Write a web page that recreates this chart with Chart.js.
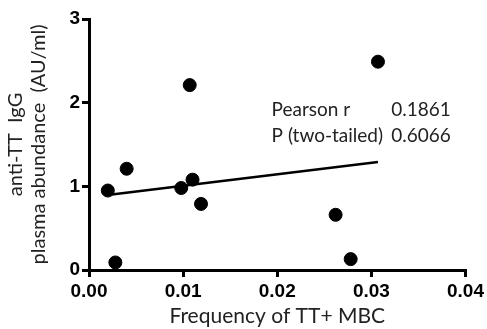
<!DOCTYPE html>
<html>
<head>
<meta charset="utf-8">
<script src="https://cdn.jsdelivr.net/npm/chart.js@4"></script>
<style>
  html, body { margin: 0; padding: 0; background: #fff; }
  #wrap { width: 487px; height: 329px; }
</style>
</head>
<body>
<div id="wrap"><canvas id="corrChart"></canvas></div>
<script>
const freqTT = [0.0020, 0.0028, 0.0040, 0.0098, 0.0107, 0.0110, 0.0119, 0.0262, 0.0278, 0.0307];
const iggAbundance = [0.95, 0.09, 1.21, 0.98, 2.21, 1.08, 0.79, 0.66, 0.13, 2.49];
const fitX = [0.0022, 0.0307];
const fitY = [0.90, 1.29];
const xTicks = [0, 0.01, 0.02, 0.03, 0.04];
const yTicks = [0, 1, 2, 3];
const statLabels = ['Pearson r', 'P (two-tailed)'];
const statValues = ['0.1861', '0.6066'];

const textFont = 'Lato, "Open Sans", sans-serif';
const tickFont = '"Liberation Sans", Arial, sans-serif';

const statsBox = {
  id: 'statsBox',
  afterDatasetsDraw(chart) {
    const ctx = chart.ctx;
    const x = chart.scales.x, y = chart.scales.y;
    ctx.save();
    ctx.fillStyle = '#222';
    ctx.font = '19px ' + textFont;
    ctx.textBaseline = 'middle';
    ctx.textAlign = 'left';
    statLabels.forEach((lab, i) => {
      const py = y.getPixelForValue(1.91) + i * 26;
      ctx.fillText(lab, x.getPixelForValue(0.0194), py);
      ctx.fillText(statValues[i], x.getPixelForValue(0.0321), py);
    });
    ctx.restore();
  }
};

const ctx = document.getElementById('corrChart').getContext('2d');
new Chart(ctx, {
  type: 'scatter',
  data: {
    datasets: [
      {
        data: freqTT.map((v, i) => ({ x: v, y: iggAbundance[i] })),
        backgroundColor: '#000',
        borderColor: '#000',
        pointRadius: 6.5,
        pointHoverRadius: 6.5
      },
      {
        type: 'line',
        data: fitX.map((v, i) => ({ x: v, y: fitY[i] })),
        borderColor: '#000',
        borderWidth: 2.5,
        pointRadius: 0,
        fill: false,
        tension: 0
      }
    ]
  },
  options: {
    responsive: true,
    maintainAspectRatio: false,
    animation: false,
    layout: { padding: { left: 4, right: 18, top: 19, bottom: 0 } },
    plugins: {
      legend: { display: false },
      tooltip: { enabled: false }
    },
    scales: {
      x: {
        type: 'linear',
        min: 0,
        max: 0.04,
        afterBuildTicks: (s) => { s.ticks = xTicks.map(v => ({ value: v })); },
        afterFit: (s) => { s.height = 59; },
        ticks: {
          color: '#000',
          font: { family: tickFont, size: 19, weight: 'bold' },
          padding: 3,
          callback: (v) => v.toFixed(2)
        },
        grid: { drawOnChartArea: false, drawTicks: true, tickLength: 7, tickColor: '#000', lineWidth: 3 },
        border: { display: true, color: '#000', width: 3 },
        title: {
          display: true,
          text: 'Frequency of TT+ MBC',
          color: '#222',
          font: { family: textFont, size: 21, lineHeight: 1.2 },
          padding: { top: 0, bottom: 0 }
        }
      },
      y: {
        type: 'linear',
        min: 0,
        max: 3,
        afterBuildTicks: (s) => { s.ticks = yTicks.map(v => ({ value: v })); },
        afterFit: (s) => { s.width = 85; },
        ticks: {
          color: '#000',
          font: { family: tickFont, size: 19, weight: 'bold' },
          padding: 2
        },
        grid: { drawOnChartArea: false, drawTicks: true, tickLength: 7, tickColor: '#000', lineWidth: 3 },
        border: { display: true, color: '#000', width: 3 },
        title: {
          display: true,
          text: ['anti-TT  IgG', 'plasma abundance  (AU/ml)'],
          color: '#222',
          font: { family: textFont, size: 20, lineHeight: 1.15 },
          padding: { top: 0, bottom: 0 }
        }
      }
    }
  },
  plugins: [statsBox]
});
</script>
</body>
</html>
